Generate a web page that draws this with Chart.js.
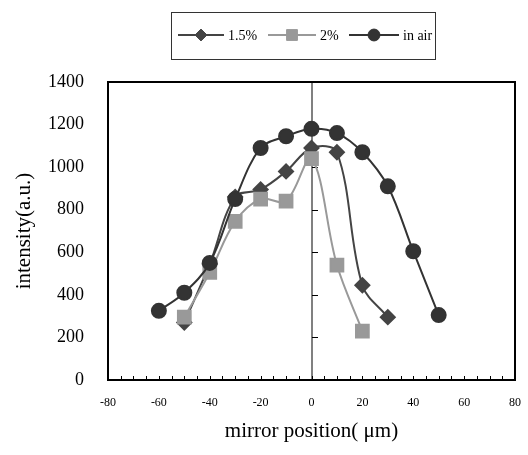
<!DOCTYPE html>
<html>
<head>
<meta charset="utf-8">
<script src="https://cdn.jsdelivr.net/npm/chart.js@4.4.0/dist/chart.umd.min.js"></script>
<style>
  html, body { margin: 0; padding: 0; background: #fff; }
  #wrap { width: 528px; height: 455px; }
</style>
</head>
<body>
<div id="wrap"><canvas id="chart" width="528" height="455"></canvas></div>
<script>
// mirror position (um)
let posA = [-50, -40, -30, -20, -10, 0, 10, 20, 30];
let valA = [270, 545, 860, 895, 980, 1090, 1070, 445, 295];      // 1.5%

let posB = [-50, -40, -30, -20, -10, 0, 10, 20];
let valB = [295, 505, 745, 850, 840, 1040, 540, 230];            // 2%

let posC = [-60, -50, -40, -30, -20, -10, 0, 10, 20, 30, 40, 50];
let valC = [325, 410, 550, 850, 1090, 1145, 1180, 1160, 1070, 910, 605, 305]; // in air

let names = ["1.5%", "2%", "in air"];
let yTicks = [0, 200, 400, 600, 800, 1000, 1200, 1400];
let xTicks = [-80, -60, -40, -20, 0, 20, 40, 60, 80];

const SERIF = "'Liberation Serif', 'DejaVu Serif', serif";

function pts(xs, ys) {
    return xs.map((x, i) => ({ x: x, y: ys[i] }));
}

// frame, zero line, small inward ticks
const framePlugin = {
    id: "frame",
    beforeDatasetsDraw(c) {
        let a = c.chartArea, ctx = c.ctx;
        let xs = c.scales.x, ys = c.scales.y;
        ctx.save();
        let x0 = Math.round(xs.getPixelForValue(0));
        ctx.strokeStyle = "#808080";
        ctx.lineWidth = 2;
        ctx.beginPath();
        ctx.moveTo(x0, a.top);
        ctx.lineTo(x0, a.bottom);
        ctx.stroke();
        ctx.strokeStyle = "#000";
        ctx.lineWidth = 1;
        yTicks.forEach(v => {
            let py = Math.round(ys.getPixelForValue(v)) + 0.5;
            ctx.beginPath();
            ctx.moveTo(x0, py);
            ctx.lineTo(x0 + 6, py);
            ctx.stroke();
        });
        ctx.restore();
    },
    afterDatasetsDraw(c) {
        let a = c.chartArea, ctx = c.ctx;
        let xs = c.scales.x;
        ctx.save();
        // ticks on the x axis every 5
        ctx.strokeStyle = "#000";
        ctx.lineWidth = 1;
        for (let v = -80; v <= 80; v += 5) {
            let px = Math.round(xs.getPixelForValue(v)) + 0.5;
            ctx.beginPath();
            ctx.moveTo(px, a.bottom);
            ctx.lineTo(px, a.bottom - 4);
            ctx.stroke();
        }
        ctx.restore();
    },
    afterDraw(c) {
        let a = c.chartArea, ctx = c.ctx;
        ctx.save();
        ctx.strokeStyle = "#000";
        ctx.lineWidth = 2;
        ctx.strokeRect(a.left, a.top, a.right - a.left, a.bottom - a.top);

        // legend
        ctx.lineWidth = 1;
        ctx.strokeStyle = "#333";
        ctx.strokeRect(171.5, 12.5, 264, 47);
        let items = [
            { x: 178, w: 46 },
            { x: 268, w: 48 },
            { x: 349, w: 50 }
        ];
        ctx.font = "14px " + SERIF;
        ctx.textBaseline = "middle";
        ctx.textAlign = "left";
        c.data.datasets.forEach((ds, i) => {
            let it = items[i], y = 35;
            ctx.strokeStyle = ds.borderColor;
            ctx.lineWidth = 2;
            ctx.beginPath();
            ctx.moveTo(it.x, y);
            ctx.lineTo(it.x + it.w, y);
            ctx.stroke();
            ctx.fillStyle = ds.pointBackgroundColor;
            ctx.strokeStyle = ds.pointBorderColor;
            ctx.lineWidth = 1;
            Chart.helpers.drawPoint(ctx, {
                pointStyle: ds.pointStyle,
                radius: ds.pointRadius * 0.85,
                borderWidth: 1,
                rotation: 0
            }, it.x + it.w / 2, y);
            ctx.fillStyle = "#000";
            ctx.fillText(names[i], it.x + it.w + 4, y + 1);
        });
        ctx.restore();
    }
};

new Chart(document.getElementById("chart"), {
    type: "line",
    data: {
        datasets: [
            {
                label: names[0],
                data: pts(posA, valA),
                borderColor: "#444444",
                backgroundColor: "#444444",
                pointBackgroundColor: "#444444",
                pointBorderColor: "#444444",
                pointStyle: "rectRot",
                pointRadius: 7,
                borderWidth: 2,
                tension: 0.35,
                order: 2
            },
            {
                label: names[1],
                data: pts(posB, valB),
                borderColor: "#999999",
                backgroundColor: "#999999",
                pointBackgroundColor: "#999999",
                pointBorderColor: "#999999",
                pointStyle: "rect",
                pointRadius: 9,
                borderWidth: 2,
                tension: 0.35,
                order: 1
            },
            {
                label: names[2],
                data: pts(posC, valC),
                borderColor: "#333333",
                backgroundColor: "#333333",
                pointBackgroundColor: "#333333",
                pointBorderColor: "#333333",
                pointStyle: "circle",
                pointRadius: 7,
                borderWidth: 2,
                tension: 0.35,
                order: 0
            }
        ]
    },
    options: {
        responsive: false,
        animation: false,
        layout: { padding: { top: 82, right: 13, left: 0, bottom: 0 } },
        plugins: {
            legend: { display: false },
            tooltip: { enabled: false }
        },
        scales: {
            x: {
                type: "linear",
                min: -80,
                max: 80,
                afterBuildTicks: s => { s.ticks = xTicks.map(v => ({ value: v })); },
                afterFit: s => { s.height = 75; s.paddingLeft = 0; s.paddingRight = 0; },
                grid: { display: false, drawTicks: false },
                border: { display: false },
                ticks: {
                    padding: 16,
                    maxRotation: 0,
                    color: "#000",
                    font: { family: SERIF, size: 12 },
                    callback: v => String(v)
                },
                title: {
                    display: true,
                    text: "mirror position( \u03bcm)",
                    color: "#000",
                    font: { family: SERIF, size: 21 },
                    padding: { top: 0, bottom: 11 }
                }
            },
            y: {
                min: 0,
                max: 1400,
                afterBuildTicks: s => { s.ticks = yTicks.map(v => ({ value: v })); },
                afterFit: s => { s.width = 108; s.paddingTop = 0; s.paddingBottom = 0; },
                grid: { display: false, drawTicks: false },
                border: { display: false },
                ticks: {
                    padding: 24,
                    color: "#000",
                    font: { family: SERIF, size: 18 },
                    callback: v => String(v)
                },
                title: {
                    display: true,
                    text: "intensity(a.u.)",
                    color: "#000",
                    font: { family: SERIF, size: 21 },
                    padding: { top: 12, bottom: 0 }
                }
            }
        }
    },
    plugins: [framePlugin]
});
</script>
</body>
</html>
